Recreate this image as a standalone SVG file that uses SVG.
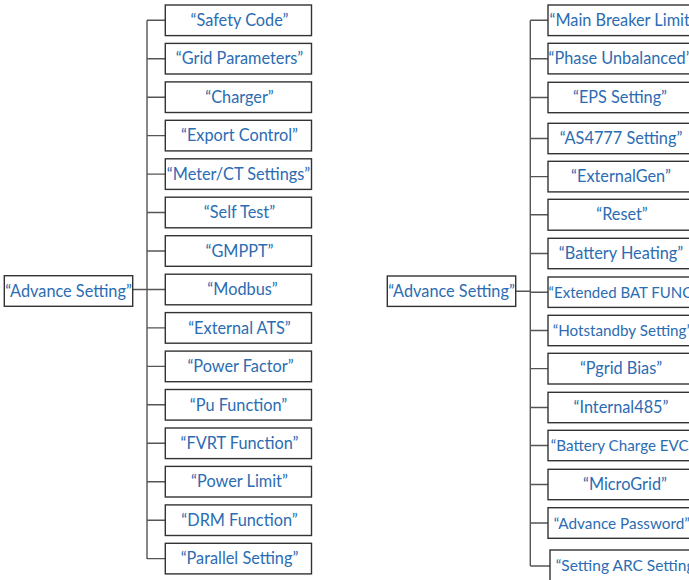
<svg xmlns="http://www.w3.org/2000/svg" width="689" height="580" viewBox="0 0 689 580">
<style>
.b{fill:#fff;stroke:#333;stroke-width:1.4}
.t{font-family:Lato,"Noto Sans",sans-serif;font-size:16.3px;fill:#2b6cb2;text-anchor:middle}
.s{text-anchor:start}
.c{fill:none;stroke:#555;stroke-width:1.4}
</style>
<rect width="689" height="580" fill="#fff"/>
<g id="connectors">
<path class="c" d="M147 20.3V559M132.7 289.5H147M147 20.3H165M147 58.7H165M147 97.2H165M147 135.6H165M147 174.1H165M147 212.5H165M147 251H165M147 289.5H165M147 327.9H165M147 366.4H165M147 404.8H165M147 443.3H165M147 481.7H165M147 520.2H165M147 558.6H165"/>
<path class="c" d="M530.3 20.3V566M515.7 291.2H530.3M530.3 20.3H548M530.3 58.7H548M530.3 97.5H548M530.3 138.5H548M530.3 176.6H548M530.3 214.8H548M530.3 253.5H548M530.3 292.2H548M530.3 330.5H548M530.3 368.6H548M530.3 407.5H548M530.3 445.5H548M530.3 484.5H548M530.3 523H548M530.3 566H550"/>
</g>
<g id="rootL"><rect class="b" x="4.3" y="275.7" width="128.4" height="30.6"/><text class="t" x="68.5" y="296.7">“Advance Setting”</text></g>
<g id="L1"><rect class="b" x="165.3" y="5" width="146.2" height="30.6"/><text class="t" x="239.5" y="26">“Safety Code”</text></g>
<g id="L2"><rect class="b" x="165.3" y="43.4" width="146.2" height="30.6"/><text class="t" x="239.5" y="64.4">“Grid Parameters”</text></g>
<g id="L3"><rect class="b" x="165.3" y="81.9" width="146.2" height="30.6"/><text class="t" x="239.5" y="102.9">“Charger”</text></g>
<g id="L4"><rect class="b" x="165.3" y="120.3" width="146.2" height="30.6"/><text class="t" x="239.5" y="141.3">“Export Control”</text></g>
<g id="L5"><rect class="b" x="165.3" y="158.8" width="146.2" height="30.6"/><text class="t" x="238.5" y="179.8">“Meter/CT Settings”</text></g>
<g id="L6"><rect class="b" x="165.3" y="197.2" width="146.2" height="30.6"/><text class="t" x="239.5" y="218.2">“Self Test”</text></g>
<g id="L7"><rect class="b" x="165.3" y="235.7" width="146.2" height="30.6"/><text class="t" x="239.5" y="256.7">“GMPPT”</text></g>
<g id="L8"><rect class="b" x="165.3" y="274.2" width="146.2" height="30.6"/><text class="t" x="242.5" y="295.2">“Modbus”</text></g>
<g id="L9"><rect class="b" x="165.3" y="312.6" width="146.2" height="30.6"/><text class="t" x="239.5" y="333.6">“External ATS”</text></g>
<g id="L10"><rect class="b" x="165.3" y="351.1" width="146.2" height="30.6"/><text class="t" x="240.5" y="372.1">“Power Factor”</text></g>
<g id="L11"><rect class="b" x="165.3" y="389.5" width="146.2" height="30.6"/><text class="t" x="238.5" y="410.5">“Pu Function”</text></g>
<g id="L12"><rect class="b" x="165.3" y="428" width="146.2" height="30.6"/><text class="t" x="239.5" y="449">“FVRT Function”</text></g>
<g id="L13"><rect class="b" x="165.3" y="466.4" width="146.2" height="30.6"/><text class="t" x="239.5" y="487.4">“Power Limit”</text></g>
<g id="L14"><rect class="b" x="165.3" y="504.9" width="146.2" height="30.6"/><text class="t" x="239.5" y="525.9">“DRM Function”</text></g>
<g id="L15"><rect class="b" x="165.3" y="543.3" width="146.2" height="30.6"/><text class="t" x="239.5" y="564.3">“Parallel Setting”</text></g>
<g id="rootR"><rect class="b" x="387.3" y="276" width="128.4" height="30.4"/><text class="t" x="451.5" y="297">“Advance Setting”</text></g>
<g id="R1"><rect class="b" x="548" y="5" width="146" height="30.6"/><text class="t s" x="549.5" y="26">“Main Breaker Limit”</text></g>
<g id="R2"><rect class="b" x="548" y="43.3" width="146" height="30.6"/><text class="t s" x="548.6" y="64.3">“Phase Unbalanced”</text></g>
<g id="R3"><rect class="b" x="548" y="82.3" width="146" height="30.4"/><text class="t" x="620" y="103.3">“EPS Setting”</text></g>
<g id="R4"><rect class="b" x="548" y="123.3" width="146" height="30.4"/><text class="t" x="621" y="144.3">“AS4777 Setting”</text></g>
<g id="R5"><rect class="b" x="548" y="161.3" width="146" height="30.6"/><text class="t" x="621" y="182.3">“ExternalGen”</text></g>
<g id="R6"><rect class="b" x="548" y="199.3" width="146" height="30.9"/><text class="t" x="622" y="220.3">“Reset”</text></g>
<g id="R7"><rect class="b" x="548" y="238.3" width="146" height="30.4"/><text class="t" x="621" y="259.3">“Battery Heating”</text></g>
<g id="R8"><rect class="b" x="548" y="277" width="146" height="30.4"/><text class="t s" x="548.6" y="298" style="font-size:15px">“Extended BAT FUNC”</text></g>
<g id="R9"><rect class="b" x="548" y="315.3" width="146" height="30.4"/><text class="t s" x="552.7" y="336.3" style="font-size:15.2px">“Hotstandby Setting”</text></g>
<g id="R10"><rect class="b" x="548" y="353.3" width="146" height="30.7"/><text class="t" x="621" y="374.3">“Pgrid Bias”</text></g>
<g id="R11"><rect class="b" x="548" y="392.3" width="146" height="30.4"/><text class="t" x="621" y="413.3">“Internal485”</text></g>
<g id="R12"><rect class="b" x="548" y="430.3" width="146" height="30.4"/><text class="t s" x="550.7" y="451.3" style="font-size:15.2px">“Battery Charge EVC”</text></g>
<g id="R13"><rect class="b" x="548" y="469.3" width="146" height="30.4"/><text class="t" x="625" y="490.3">“MicroGrid”</text></g>
<g id="R14"><rect class="b" x="548" y="507.7" width="146" height="30.6"/><text class="t s" x="553.7" y="528.7" style="font-size:15.3px">“Advance Password”</text></g>
<g id="R15"><rect class="b" x="550" y="550" width="146" height="32"/><text class="t s" x="555.7" y="571" style="font-size:15.5px">“Setting ARC Setting”</text></g>
</svg>
